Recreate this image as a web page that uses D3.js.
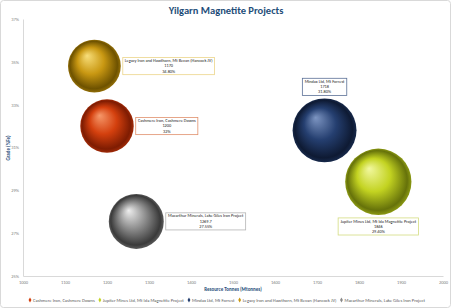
<!DOCTYPE html>
<html>
<head>
<meta charset="utf-8">
<script src="https://cdn.jsdelivr.net/npm/d3@7"></script>
<style>
  html, body { margin: 0; padding: 0; background: #fff; }
  #chart { width: 451px; height: 308px; }
  text { font-family: Calibri, Carlito, "Liberation Sans", Arial, sans-serif; }
</style>
</head>
<body>
<div id="chart"></div>
<script>
// Project names, tonnes (Mt) and grade (%Fe)
const projects = [
  "Cashmere Iron, Cashmere Downs",
  "Jupiter Mines Ltd, Mt Ida Magnetite Project",
  "Mindax Ltd, Mt Forrest",
  "Legacy Iron and Hawthorn, Mt Bevan (Hancock JV)",
  "Macarthur Minerals, Lake Giles Iron Project"
];
const tonnes = [1200, 1846, 1718, 1170, 1269.7];
const grades = [32.0, 29.4, 31.8, 34.8, 27.55];
const gradeLabels = ["32%", "29.40%", "31.80%", "34.80%", "27.55%"];
const xTicks = [1000, 1100, 1200, 1300, 1400, 1500, 1600, 1700, 1800, 1900, 2000];
const yTicks = [25, 27, 29, 31, 33, 35, 37];

// colours: base, highlight, shadow, label border
const palette = [
  { base: "#d4400e", hi: "#f6986a", dark: "#7e1c02", border: "#e0906c" },
  { base: "#c3d321", hi: "#f2f8a0", dark: "#66720a", border: "#d4dc80" },
  { base: "#253f70", hi: "#7d95c2", dark: "#0e1a33", border: "#5a6f96" },
  { base: "#c99812", hi: "#f8de7a", dark: "#6e5200", border: "#ecd58a" },
  { base: "#8a8a8a", hi: "#eeeeee", dark: "#3a3a3a", border: "#b4b4b4" }
];
// label placement relative to bubble
const labelPos = ["right", "below", "above", "right", "right"];

const W = 451, H = 308;
const svg = d3.select("#chart").append("svg").attr("width", W).attr("height", H);

// outer chart border
svg.append("rect")
  .attr("x", 0.5).attr("y", 0.5).attr("width", W - 1).attr("height", H - 1)
  .attr("rx", 3).attr("fill", "#fff").attr("stroke", "#d9d9d9");

const x = d3.scaleLinear().domain([1000, 2000]).range([23, 443]);
const y = d3.scaleLinear().domain([25, 37]).range([276, 19]);
const r = d3.scaleSqrt().domain([0, 2000]).range([0, 34.5]);

// gradients for the 3D spheres
const defs = svg.append("defs");
palette.forEach((c, i) => {
  const g = defs.append("radialGradient")
    .attr("id", "sph" + i)
    .attr("cx", "50%").attr("cy", "50%").attr("r", "50%")
    .attr("fx", "36%").attr("fy", "30%");
  g.append("stop").attr("offset", "0%").attr("stop-color", c.hi);
  g.append("stop").attr("offset", "50%").attr("stop-color", c.base);
  g.append("stop").attr("offset", "90%").attr("stop-color", c.dark);
  g.append("stop").attr("offset", "100%").attr("stop-color", d3.interpolateRgb(c.dark, c.base)(0.4));
});

// title
svg.append("text")
  .attr("x", 226).attr("y", 14)
  .attr("text-anchor", "middle")
  .attr("font-size", 10.5).attr("font-weight", "bold")
  .attr("fill", "#1f4e79")
  .text("Yilgarn Magnetite Projects");

// axes
const yAxis = svg.append("g").attr("transform", "translate(23,0)")
  .call(d3.axisLeft(y).tickValues(yTicks).tickSize(0).tickPadding(4).tickFormat(d => d + "%"));
yAxis.select(".domain").attr("stroke", "#d9d9d9");
yAxis.selectAll("text").attr("font-size", 4.5).attr("fill", "#7f7f7f");

const xAxis = svg.append("g").attr("transform", "translate(0,276)")
  .call(d3.axisBottom(x).tickValues(xTicks).tickSize(0).tickPadding(5).tickFormat(d3.format("d")));
xAxis.select(".domain").attr("stroke", "#d9d9d9");
xAxis.selectAll("text").attr("font-size", 4.5).attr("fill", "#7f7f7f");

// axis titles
svg.append("text")
  .attr("transform", "translate(10,148) rotate(-90)")
  .attr("text-anchor", "middle")
  .attr("font-size", 5).attr("font-weight", "bold").attr("fill", "#1f4e79")
  .text("Grade (%Fe)");
svg.append("text")
  .attr("x", 233).attr("y", 291)
  .attr("text-anchor", "middle")
  .attr("font-size", 5).attr("font-weight", "bold").attr("fill", "#1f4e79")
  .text("Resource Tonnes (Mtonnes)");

// bubbles (larger first so smaller stay on top)
const data = projects.map((p, i) => ({ name: p, t: tonnes[i], g: grades[i], gl: gradeLabels[i], i }));
const order = data.slice().sort((a, b) => b.t - a.t);

svg.append("g").selectAll("circle")
  .data(order)
  .enter()
  .append("circle")
  .attr("cx", d => x(d.t))
  .attr("cy", d => y(d.g))
  .attr("r", d => r(d.t))
  .attr("fill", d => "url(#sph" + d.i + ")");

// data labels
const labels = svg.append("g");
data.forEach(d => {
  const lines = [d.name, String(d.t), d.gl];
  const fs = 4.3, lh = 5.2;
  const g = labels.append("g");
  const txt = g.append("text").attr("font-size", fs).attr("fill", "#222").attr("text-anchor", "middle");
  lines.forEach((l, k) => txt.append("tspan").attr("x", 0).attr("dy", k === 0 ? 0 : lh).text(l));
  const bb = txt.node().getBBox();
  const bw = bb.width + 4, bh = lh * 3 + 1.5;
  const cx = x(d.t), cy = y(d.g), rr = r(d.t);
  let lx, ly; // centre of the box
  if (labelPos[d.i] === "right") { lx = cx + rr + 2 + bw / 2; ly = cy; }
  else if (labelPos[d.i] === "above") { lx = cx; ly = cy - rr - 3 - bh / 2; }
  else { lx = cx; ly = cy + rr + 3 + bh / 2; }
  g.insert("rect", "text")
    .attr("x", lx - bw / 2).attr("y", ly - bh / 2)
    .attr("width", bw).attr("height", bh)
    .attr("fill", "#fff").attr("stroke", palette[d.i].border).attr("stroke-width", 0.8);
  txt.attr("transform", `translate(${lx},${ly - bh / 2 + 4.6})`);
});

// legend: lay items out in a row, spread between x=28 and x=423
const leg = svg.append("g");
const items = data.map((d, i) => {
  const g = leg.append("g");
  g.append("path")
    .attr("d", d3.symbol(d3.symbolDiamond, 7)())
    .attr("fill", palette[i].base);
  const t = g.append("text")
    .attr("x", 3).attr("y", 1.7)
    .attr("font-size", 4.6).attr("fill", "#595959")
    .text(d.name);
  return { g, w: 3 + t.node().getComputedTextLength() };
});
const total = d3.sum(items, it => it.w);
const gap = (423 - 28 - total) / (items.length - 1);
let lx = 30;
items.forEach(it => {
  it.g.attr("transform", `translate(${lx},300)`);
  lx += it.w + gap;
});
</script>
</body>
</html>
